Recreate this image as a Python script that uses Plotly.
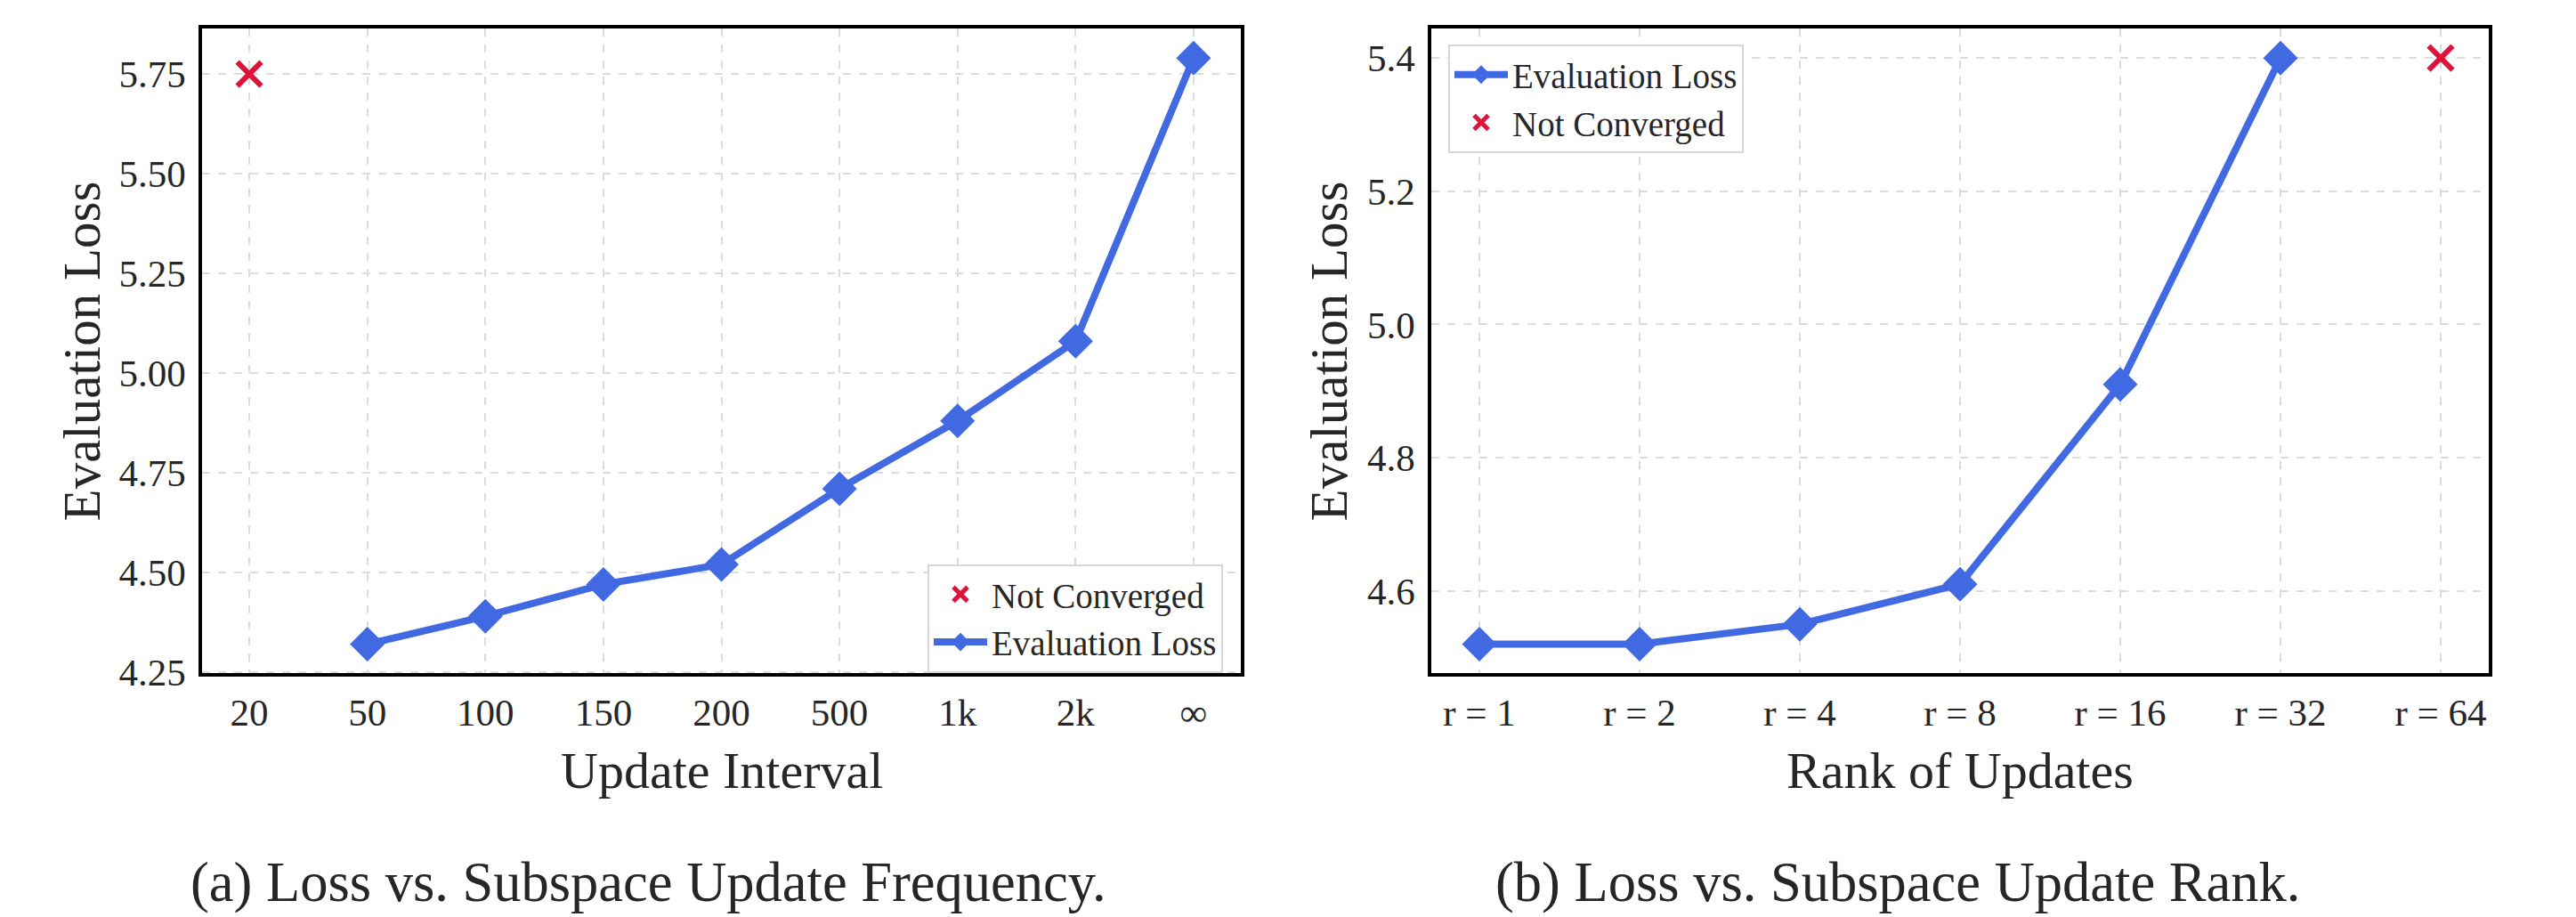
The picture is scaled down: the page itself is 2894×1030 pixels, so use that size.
import plotly.graph_objects as go

# ---- data ----
interval_labels = ["20", "50", "100", "150", "200", "500", "1k", "2k", "∞"]
interval_loss = [None, 4.32, 4.39, 4.47, 4.52, 4.71, 4.88, 5.08, 5.79]
interval_not_converged_x = ["20"]
interval_not_converged_y = [5.75]

rank_labels = ["r = 1", "r = 2", "r = 4", "r = 8", "r = 16", "r = 32", "r = 64"]
rank_loss = [4.52, 4.52, 4.55, 4.61, 4.91, 5.40, None]
rank_not_converged_x = ["r = 64"]
rank_not_converged_y = [5.40]

left_yticks = [4.25, 4.50, 4.75, 5.00, 5.25, 5.50, 5.75]
right_yticks = [4.6, 4.8, 5.0, 5.2, 5.4]

# ---- style ----
W, H = 2894, 1030
FONT = "Liberation Serif"
TXT = "#262626"
BLUE = "#4169E1"
RED = "#DC143C"

def px_x(p):
    return p / W

def px_y(p):
    return 1 - p / H

top, bottom = 33, 773
L0, L1 = 227, 1394
R0, R1 = 1608, 2796

fig = go.Figure()

xmark = dict(symbol="x-thin", size=27, line=dict(color=RED, width=6), color=RED)
dmark = dict(symbol="diamond", size=30, color=BLUE)

# left panel
fig.add_trace(go.Scatter(
    x=interval_not_converged_x, y=interval_not_converged_y, mode="markers",
    name="Not Converged", legend="legend", legendrank=1, marker=xmark,
    xaxis="x", yaxis="y"))
fig.add_trace(go.Scatter(
    x=interval_labels, y=interval_loss, mode="lines+markers",
    name="Evaluation Loss", legend="legend", legendrank=2,
    line=dict(color=BLUE, width=8), marker=dmark,
    xaxis="x", yaxis="y"))

# right panel
fig.add_trace(go.Scatter(
    x=rank_labels, y=rank_loss, mode="lines+markers",
    name="Evaluation Loss", legend="legend2", legendrank=1,
    line=dict(color=BLUE, width=8), marker=dmark,
    xaxis="x2", yaxis="y2"))
fig.add_trace(go.Scatter(
    x=rank_not_converged_x, y=rank_not_converged_y, mode="markers",
    name="Not Converged", legend="legend2", legendrank=2, marker=xmark,
    xaxis="x2", yaxis="y2"))

axis_common = dict(
    showline=True, linecolor="black", linewidth=3.5, mirror=True,
    showgrid=True, gridcolor="#dcdcdc", gridwidth=1.5, griddash="dash",
    zeroline=False, ticks="", tickfont=dict(family=FONT, size=43, color=TXT),
)

legend_common = dict(
    font=dict(family=FONT, size=39, color=TXT),
    bgcolor="white", bordercolor="#d6d6d6", borderwidth=2,
    itemsizing="trace", tracegroupgap=0, itemwidth=60,
)

fig.update_layout(
    width=W, height=H, autosize=False,
    margin=dict(l=0, r=0, t=0, b=0),
    paper_bgcolor="white", plot_bgcolor="white",
    font=dict(family=FONT, color=TXT),
    xaxis=dict(axis_common, domain=[px_x(L0), px_x(L1)], type="category",
               categoryorder="array", categoryarray=interval_labels,
               range=[-0.4, 8.4], anchor="y", ticklabelstandoff=3),
    yaxis=dict(axis_common, domain=[px_y(bottom), px_y(top)],
               range=[4.2465, 5.8635], tickvals=left_yticks,
               ticktext=[f"{v:.2f}" for v in left_yticks], anchor="x",
               ticklabelstandoff=6),
    xaxis2=dict(axis_common, domain=[px_x(R0), px_x(R1)], type="category",
                categoryorder="array", categoryarray=rank_labels,
                range=[-0.3, 6.3], anchor="y2", ticklabelstandoff=3),
    yaxis2=dict(axis_common, domain=[px_y(bottom), px_y(top)],
                range=[4.476, 5.444], tickvals=right_yticks,
                ticktext=[f"{v:.1f}" for v in right_yticks], anchor="x2",
                ticklabelstandoff=6),
    legend=dict(legend_common, x=px_x(1374), y=px_y(772),
                xanchor="right", yanchor="bottom"),
    legend2=dict(legend_common, x=px_x(1627), y=px_y(51),
                 xanchor="left", yanchor="top"),
    showlegend=True,
)

annots = [
    dict(text="Update Interval", x=px_x((L0 + L1) / 2), y=px_y(884), size=58, angle=0),
    dict(text="Rank of Updates", x=px_x((R0 + R1) / 2), y=px_y(884), size=58, angle=0),
    dict(text="Evaluation Loss", x=px_x(92), y=px_y((top + bottom) / 2), size=59, angle=-90),
    dict(text="Evaluation Loss", x=px_x(1493), y=px_y((top + bottom) / 2), size=59, angle=-90),
    dict(text="(a) Loss vs. Subspace Update Frequency.", x=px_x(728), y=px_y(1013), size=62.5, angle=0),
    dict(text="(b) Loss vs. Subspace Update Rank.", x=px_x(2132), y=px_y(1013), size=62.5, angle=0),
]
for a in annots:
    fig.add_annotation(text=a["text"], x=a["x"], y=a["y"], xref="paper", yref="paper",
                       xanchor="center", yanchor="middle", showarrow=False,
                       textangle=a["angle"],
                       font=dict(family=FONT, size=a["size"], color=TXT))

fig.write_html("out.html")
